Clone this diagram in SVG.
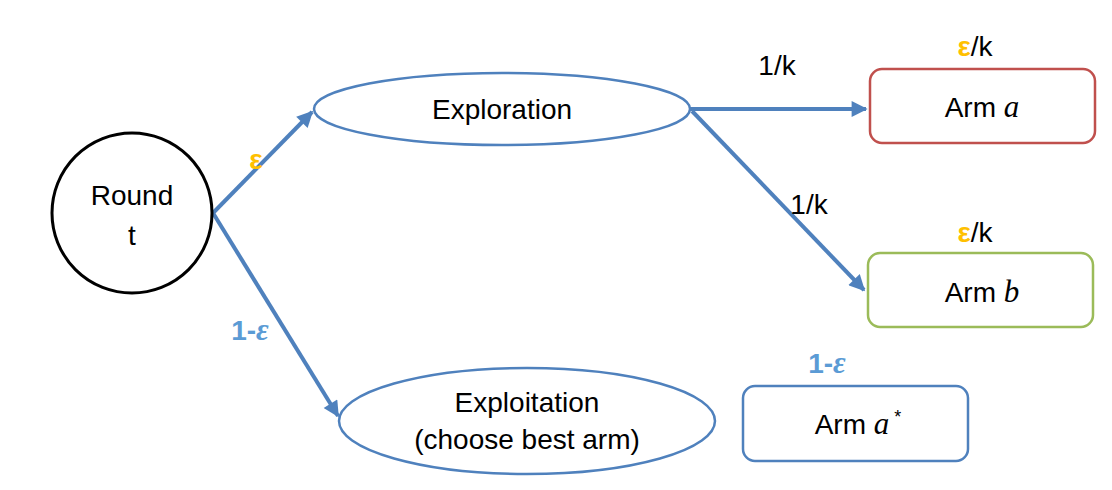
<svg xmlns="http://www.w3.org/2000/svg" width="1112" height="490" viewBox="0 0 1112 490">
<defs>
<marker id="ah" viewBox="0 0 10 10" refX="9" refY="5" markerWidth="4.5" markerHeight="4" orient="auto" markerUnits="strokeWidth">
<path d="M0,0 L10,5 L0,10 z" fill="#4F81BD"/>
</marker>
<style>
.t{font-family:"Liberation Sans",Arial,sans-serif;font-size:28px;fill:#000;text-anchor:middle}
.m{font-family:"Liberation Serif","Times New Roman",serif;font-style:italic;font-size:31px}
.eps{fill:#FFC000;font-weight:bold}
.blu{fill:#5B9BD5;font-weight:bold}
.c{fill:none;stroke:#4F81BD;stroke-width:4;marker-end:url(#ah)}
.el{fill:#fff;stroke:#4F81BD;stroke-width:2.5}
</style>
</defs>
<rect width="1112" height="490" fill="#fff"/>
<g id="connectors">
<line class="c" x1="213" y1="213" x2="312" y2="112"/>
<line class="c" x1="213" y1="213" x2="338" y2="416"/>
<line class="c" x1="690" y1="109" x2="866" y2="109"/>
<line class="c" x1="692" y1="111" x2="864" y2="290"/>
</g>
<g id="round">
<circle cx="132" cy="213" r="80" fill="#fff" stroke="#000" stroke-width="3"/>
<text class="t" x="132" y="205">Round</text>
<text class="t" x="132" y="245">t</text>
</g>
<g id="exploration">
<ellipse class="el" cx="502" cy="109" rx="188" ry="36"/>
<text class="t" x="502" y="119">Exploration</text>
</g>
<g id="exploitation">
<ellipse class="el" cx="527" cy="421" rx="188" ry="53"/>
<text class="t" x="527" y="412">Exploitation</text>
<text class="t" x="527" y="449">(choose best arm)</text>
</g>
<g id="arm-a">
<rect x="870" y="69" width="225" height="74" rx="12" fill="#fff" stroke="#C0504D" stroke-width="2.5"/>
<text class="t" x="982" y="117">Arm <tspan class="m">a</tspan></text>
</g>
<g id="arm-b">
<rect x="868" y="253" width="225" height="74" rx="12" fill="#fff" stroke="#9BBB59" stroke-width="2.5"/>
<text class="t" x="982" y="302">Arm <tspan class="m">b</tspan></text>
</g>
<g id="arm-astar">
<rect x="743" y="386" width="225" height="75" rx="12" fill="#fff" stroke="#4F81BD" stroke-width="2.5"/>
<text class="t" x="858" y="434">Arm <tspan class="m">a</tspan><tspan font-size="18" dy="-11"> *</tspan></text>
</g>
<g id="labels">
<text class="t eps" x="256" y="169">ε</text>
<text class="t blu" x="250" y="340">1-<tspan class="m">ε</tspan></text>
<text class="t" x="777" y="75">1/k</text>
<text class="t" x="809" y="214">1/k</text>
<text class="t" x="975" y="56"><tspan class="eps">ε</tspan>/k</text>
<text class="t" x="975" y="242"><tspan class="eps">ε</tspan>/k</text>
<text class="t blu" x="827" y="373">1-<tspan class="m">ε</tspan></text>
</g>
</svg>
